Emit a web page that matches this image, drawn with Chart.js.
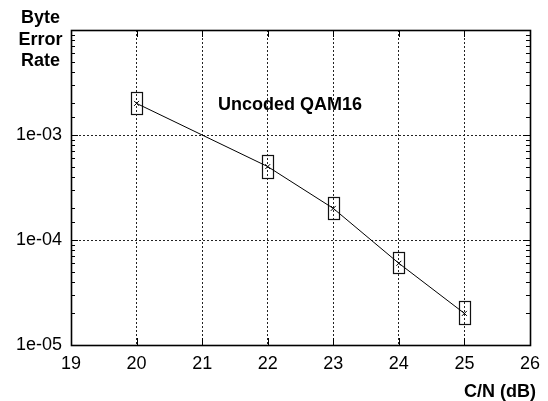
<!DOCTYPE html>
<html>
<head>
<meta charset="utf-8">
<script src="https://cdn.jsdelivr.net/npm/chart.js@4/dist/chart.umd.min.js"></script>
<style>
html,body{margin:0;padding:0;background:#fff;}
#wrap{width:548px;height:401px;}
</style>
</head>
<body>
<div id="wrap"><canvas id="c" width="548" height="401"></canvas></div>
<script>
// ---- data ----
const cn = [20, 22, 23, 24, 25];
const byteErrorRate = [2.0e-3, 5.0e-4, 2.0e-4, 6.0e-5, 2.0e-5];
const boxLow  = [1.58e-3, 3.9e-4, 1.58e-4, 4.8e-5, 1.6e-5];
const boxHigh = [2.56e-3, 6.4e-4, 2.57e-4, 7.7e-5, 2.6e-5];
const xTicks = [19, 20, 21, 22, 23, 24, 25, 26];
const yTickLabels = { 1e-5: '1e-05', 1e-4: '1e-04', 1e-3: '1e-03' };
const seriesLabel = 'Uncoded QAM16';
const labelPos = { x: 22.34, y: 1.93e-3 };
const yTitleLines = ['Byte', 'Error', 'Rate'];
const xTitle = 'C/N (dB)';

const FONT = '"Liberation Sans", Arial, Helvetica, sans-serif';
const BOX_HALF = 0.085;

function isDecade(v) {
  const l = Math.log10(v);
  return Math.abs(l - Math.round(l)) < 1e-6;
}

const decor = {
  id: 'decor',
  beforeDatasetsDraw(chart) {
    const { ctx, scales: { x, y } } = chart;
    ctx.save();
    ctx.strokeStyle = '#111';
    ctx.lineWidth = 1.2;
    for (let i = 0; i < cn.length; i++) {
      const x0 = Math.round(x.getPixelForValue(cn[i] - BOX_HALF)) + 0.5;
      const x1 = Math.round(x.getPixelForValue(cn[i] + BOX_HALF)) + 0.5;
      const y0 = Math.round(y.getPixelForValue(boxHigh[i])) + 0.5;
      const y1 = Math.round(y.getPixelForValue(boxLow[i])) + 0.5;
      ctx.strokeRect(x0, y0, x1 - x0, y1 - y0);
    }
    ctx.restore();
  },
  afterDraw(chart) {
    const { ctx, chartArea: a, scales: { x, y } } = chart;
    ctx.save();
    ctx.strokeStyle = '#000';
    ctx.lineWidth = 1;
    y.ticks.forEach(t => {
      const py = Math.round(y.getPixelForValue(t.value)) + 0.5;
      const len = isDecade(t.value) ? 7 : 4;
      ctx.beginPath();
      ctx.moveTo(a.left, py); ctx.lineTo(a.left + len, py);
      ctx.moveTo(a.right, py); ctx.lineTo(a.right - len, py);
      ctx.stroke();
    });
    xTicks.forEach(v => {
      const px = Math.round(x.getPixelForValue(v)) + 0.5;
      ctx.beginPath();
      ctx.moveTo(px, a.bottom); ctx.lineTo(px, a.bottom - 7);
      ctx.moveTo(px, a.top); ctx.lineTo(px, a.top + 7);
      ctx.stroke();
    });
    ctx.lineWidth = 1.6;
    ctx.strokeRect(Math.round(a.left) + 0.5, Math.round(a.top) + 0.5,
      Math.round(a.right - a.left), Math.round(a.bottom - a.top));
    ctx.fillStyle = '#000';
    ctx.font = 'bold 18px ' + FONT;
    ctx.textAlign = 'center';
    ctx.textBaseline = 'middle';
    ctx.fillText(seriesLabel, x.getPixelForValue(labelPos.x), y.getPixelForValue(labelPos.y));
    ctx.textAlign = 'center';
    ctx.textBaseline = 'alphabetic';
    yTitleLines.forEach((s, i) => ctx.fillText(s, 40.5, 23 + i * 21.7));
    ctx.textAlign = 'right';
    ctx.fillText(xTitle, 536, 397);
    ctx.restore();
  }
};

new Chart(document.getElementById('c'), {
  type: 'line',
  data: {
    datasets: [{
      label: seriesLabel,
      data: cn.map((v, i) => ({ x: v, y: byteErrorRate[i] })),
      borderColor: '#000',
      borderWidth: 1,
      pointStyle: 'crossRot',
      pointRadius: 3.5,
      pointBorderColor: '#000',
      pointBorderWidth: 1,
      fill: false,
      tension: 0
    }]
  },
  options: {
    responsive: false,
    animation: false,
    devicePixelRatio: 1,
    layout: { padding: { left: 0, top: 30, right: 16, bottom: 0 } },
    plugins: { legend: { display: false }, tooltip: { enabled: false } },
    scales: {
      x: {
        type: 'linear',
        min: 19, max: 26,
        afterFit(s) { s.height = 56; },
        afterBuildTicks(s) { s.ticks = xTicks.map(v => ({ value: v })); },
        border: { display: false, dash: [2, 2] },
        grid: {
          drawTicks: false,
          color: ctx => (ctx.tick && (ctx.tick.value === 19 || ctx.tick.value === 26)) ? 'rgba(0,0,0,0)' : '#222',
          lineWidth: 1
        },
        ticks: {
          color: '#000',
          padding: 8,
          maxRotation: 0,
          font: { family: FONT, size: 18 },
          callback: v => String(v)
        }
      },
      y: {
        type: 'logarithmic',
        min: 1e-5, max: 1e-2,
        afterFit(s) { s.width = 71; },
        border: { display: false, dash: [2, 2] },
        grid: {
          drawTicks: false,
          color: ctx => {
            if (!ctx.tick) return 'rgba(0,0,0,0)';
            const v = ctx.tick.value;
            if (!isDecade(v) || v <= 1e-5 * 1.01 || v >= 1e-2 * 0.99) return 'rgba(0,0,0,0)';
            return '#222';
          },
          lineWidth: 1
        },
        ticks: {
          color: '#000',
          padding: 9,
          autoSkip: false,
          font: { family: FONT, size: 18 },
          callback: function (v) {
            for (const k in yTickLabels) {
              if (Math.abs(Number(k) - v) / v < 1e-6) return yTickLabels[k];
            }
            return '';
          }
        }
      }
    }
  },
  plugins: [decor]
});
</script>
</body>
</html>
